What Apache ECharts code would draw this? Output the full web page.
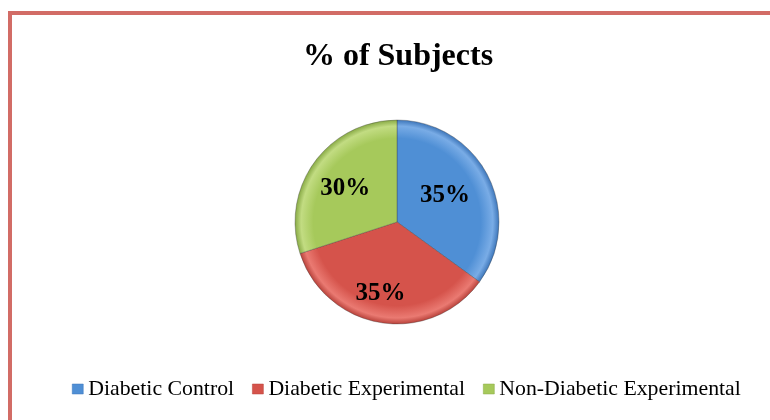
<!DOCTYPE html>
<html>
<head>
<meta charset="utf-8">
<title>% of Subjects</title>
<script src="https://cdn.jsdelivr.net/npm/echarts@6/dist/echarts.min.js"></script>
<style>
  html, body { margin: 0; padding: 0; background: #fff; }
  #chart { width: 770px; height: 420px; }
</style>
</head>
<body>
<div id="chart"></div>
<script>
const groups = ['Diabetic Control', 'Diabetic Experimental', 'Non-Diabetic Experimental']
const percents = [35, 35, 30]
const baseColors = ['#4f8fd5', '#d5534b', '#a6c95b']
const lightColors = ['#79ace6', '#ea7a72', '#c2dc82']
const darkColors = ['#3d76ba', '#b9423b', '#88aa45']
// nudge labels a little like the original (it sits lower in the red slice)
const labelShift = [[0, -2], [-8, 18], [-8, -2]]

const cx = 397, cy = 222, rad = 102

function shade(i) {
  return new echarts.graphic.RadialGradient(cx, cy, rad, [
    { offset: 0, color: baseColors[i] },
    { offset: 0.82, color: baseColors[i] },
    { offset: 0.94, color: lightColors[i] },
    { offset: 1, color: darkColors[i] }
  ], true)
}

const chart = echarts.init(document.getElementById('chart'))

chart.setOption({
  animation: false,
  title: {
    text: '% of Subjects',
    left: 393,
    textAlign: 'center',
    top: 36,
    textStyle: {
      fontFamily: 'Liberation Serif',
      fontWeight: 'bold',
      fontSize: 32,
      color: '#000'
    }
  },
  graphic: [{
    type: 'rect',
    shape: { x: 10, y: 13, width: 800, height: 500 },
    style: { fill: 'none', stroke: '#d26c66', lineWidth: 4 },
    silent: true
  }],
  legend: {
    top: 373,
    left: 67,
    itemWidth: 11,
    itemHeight: 10,
    itemGap: 18,
    icon: 'rect',
    textStyle: {
      fontFamily: 'Liberation Serif',
      fontSize: 21.8,
      color: '#000'
    },
    data: groups.map((name, i) => ({
      name: name,
      itemStyle: { color: baseColors[i], borderColor: darkColors[i], borderWidth: 0.5 }
    }))
  },
  series: [{
    type: 'pie',
    center: [cx, cy],
    radius: rad,
    startAngle: 90,
    clockwise: true,
    label: {
      position: 'inner',
      formatter: '{c}%',
      fontFamily: 'Liberation Serif',
      fontWeight: 'bold',
      fontSize: 25,
      color: '#000'
    },
    labelLine: { show: false },
    itemStyle: { borderColor: 'rgba(60,60,60,0.35)', borderWidth: 1 },
    data: groups.map((name, i) => ({
      name: name,
      value: percents[i],
      itemStyle: { color: shade(i) },
      label: { offset: labelShift[i] }
    }))
  }],
  color: baseColors
})
</script>
</body>
</html>
